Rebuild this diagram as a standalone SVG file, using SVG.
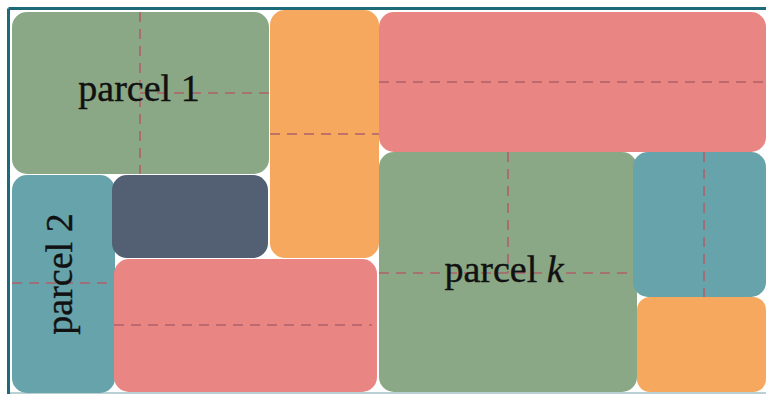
<svg xmlns="http://www.w3.org/2000/svg" width="766" height="394" viewBox="0 0 766 394">
<style>
.green{fill:#8aa886}
.orange{fill:#f5a85e}
.pink{fill:#e98582}
.teal{fill:#67a3aa}
.slate{fill:#535f73}
.dash{stroke:#b0606a;stroke-width:1.6;stroke-dasharray:10 7;fill:none}
.lbl{font-family:"Liberation Serif","Times New Roman",serif;font-size:38px;fill:#111;stroke:#111;stroke-width:0.4;text-anchor:middle}
</style>
<rect x="0" y="0" width="766" height="394" fill="#ffffff"/>
<line x1="8.5" y1="8.5" x2="766" y2="8.5" stroke="#1d6b78" stroke-width="3"/>
<line x1="8.5" y1="8.5" x2="8.5" y2="394" stroke="#1d6b78" stroke-width="3"/>
<line x1="10" y1="393" x2="766" y2="393" stroke="#b9d1d5" stroke-width="2"/>
<g id="parcel1">
<rect class="green" x="12" y="12" width="257" height="162" rx="15"/>
<line class="dash" x1="140" y1="12" x2="140" y2="174"/>
<line class="dash" x1="140" y1="93" x2="269" y2="93"/>
<text class="lbl" x="139" y="101">parcel 1</text>
</g>
<g id="orange-tall">
<rect class="orange" x="270" y="10" width="109" height="248" rx="15"/>
<line class="dash" x1="270" y1="134" x2="379" y2="134"/>
</g>
<g id="pink-top">
<rect class="pink" x="379" y="12" width="387" height="140" rx="15"/>
<line class="dash" x1="379" y1="82" x2="766" y2="82"/>
</g>
<g id="parcelk">
<rect class="green" x="379" y="152" width="258" height="240" rx="15"/>
<line class="dash" x1="508" y1="152" x2="508" y2="273"/>
<line class="dash" x1="379" y1="273" x2="637" y2="273"/>
<text class="lbl" x="504" y="282">parcel <tspan font-style="italic">k</tspan></text>
</g>
<g id="teal-right">
<rect class="teal" x="633" y="152" width="133" height="145" rx="15"/>
<line class="dash" x1="704" y1="152" x2="704" y2="297"/>
</g>
<g id="orange-br">
<rect class="orange" x="637" y="297" width="129" height="95" rx="13"/>
</g>
<g id="parcel2">
<rect class="teal" x="12" y="175" width="103" height="218" rx="15"/>
<line class="dash" x1="12" y1="283" x2="115" y2="283"/>
<text class="lbl" transform="translate(72 274) rotate(-90)" x="0" y="0">parcel 2</text>
</g>
<g id="slate">
<rect class="slate" x="112" y="175" width="156" height="83" rx="15"/>
</g>
<g id="pink-bottom">
<rect class="pink" x="114" y="259" width="263" height="133" rx="15"/>
<line class="dash" x1="114" y1="325" x2="372" y2="325"/>
</g>
</svg>
